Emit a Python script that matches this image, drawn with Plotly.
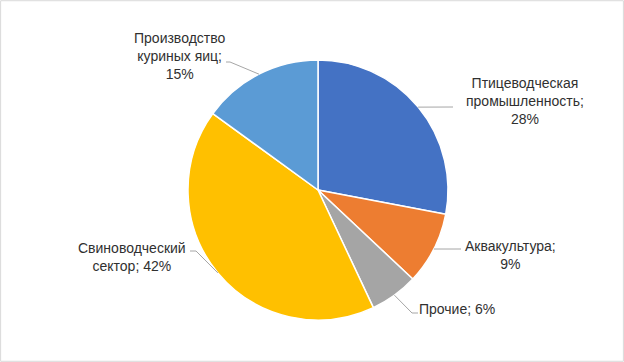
import math
import plotly.graph_objects as go

# Data
categories = ["Птицеводческая промышленность", "Аквакультура", "Прочие",
              "Свиноводческий сектор", "Производство куриных яиц"]
values = [28, 9, 6, 42, 15]
label_texts = ["Птицеводческая<br>промышленность;<br>28%",
               "Аквакультура;<br>9%",
               "Прочие; 6%",
               "Свиноводческий<br>сектор; 42%",
               "Производство<br>куриных яиц;<br>15%"]
colors = ["#4472C4", "#ED7D31", "#A5A5A5", "#FFC000", "#5B9BD5"]

W, H = 624, 362
cx, cy, R = 318, 190, 130

# label layout (pixel positions of label text centre, elbow, end of leader line)
label_pos = [(525, 101), (510, 255), (457, 309), (132, 257), (180, 56)]
leader_elbow = [(453, 107), (461, 249), (412, 313), (196, 251), (230, 62)]
leader_end = [(453, 107), (461, 249), (418, 313), (190, 251), (226, 62)]

fig = go.Figure(go.Pie(
    labels=categories, values=values, sort=False, direction="clockwise",
    rotation=0, marker=dict(colors=colors, line=dict(color="white", width=1.5)),
    textinfo="none", hoverinfo="label+percent", showlegend=False,
    domain=dict(x=[(cx - R) / W, (cx + R) / W], y=[1 - (cy + R) / H, 1 - (cy - R) / H]),
))

def px(x):
    return x / W

def py(y):
    return 1 - y / H

shapes = [dict(type="rect", xref="paper", yref="paper", x0=0.001, y0=0.002, x1=0.999, y1=0.998,
               line=dict(color="#D9D9D9", width=1), fillcolor="rgba(0,0,0,0)")]
annotations = []
total = sum(values)
cum = 0
for i, v in enumerate(values):
    mid = 90 - (cum + v / 2) / total * 360
    cum += v
    ex = cx + R * math.cos(math.radians(mid))
    ey = cy - R * math.sin(math.radians(mid))
    bx, by = leader_elbow[i]
    tx, ty = leader_end[i]
    shapes.append(dict(type="path", xref="paper", yref="paper",
                       path=f"M {px(ex)},{py(ey)} L {px(bx)},{py(by)} L {px(tx)},{py(ty)}",
                       line=dict(color="#A6A6A6", width=1)))
    lx, ly = label_pos[i]
    annotations.append(dict(x=px(lx), y=py(ly), xref="paper", yref="paper",
                            xanchor="center", yanchor="middle",
                            text=label_texts[i], showarrow=False, align="center",
                            font=dict(family="Liberation Sans, Arial", size=14, color="#303030")))

fig.update_layout(width=W, height=H, margin=dict(l=0, r=0, t=0, b=0),
                  paper_bgcolor="white", plot_bgcolor="white",
                  shapes=shapes, annotations=annotations)
fig.write_html("out.html", config={"displayModeBar": False},
               post_script="document.body.style.margin='0';document.body.style.overflow='hidden';")
